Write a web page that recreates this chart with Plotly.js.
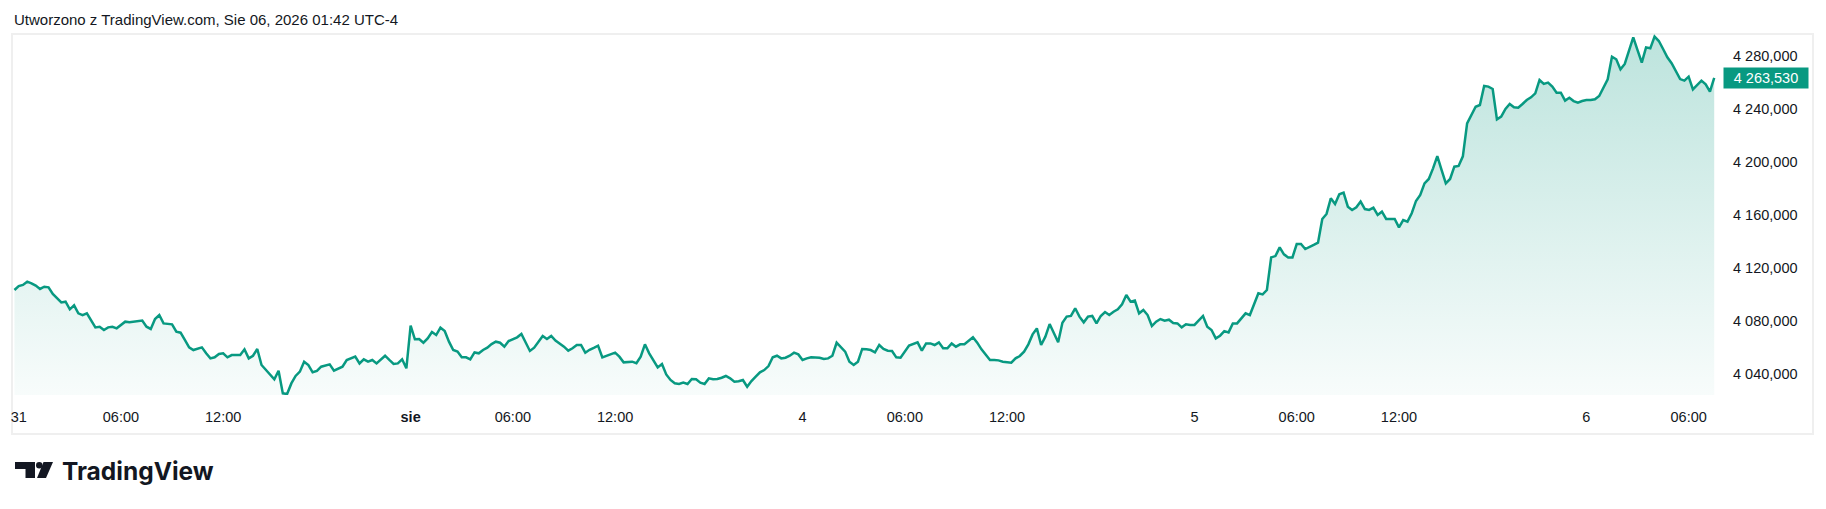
<!DOCTYPE html>
<html>
<head>
<meta charset="utf-8">
<script src="https://cdn.plot.ly/plotly-3.0.1.min.js"></script>
<style>
  html, body { margin: 0; padding: 0; background: #fff; }
  #chart { width: 1826px; height: 509px; }
</style>
</head>
<body>
<div id="chart"></div>
<script>
// trading hours counted from 31 Jul 00:00 (chart time); the daily 23:00-24:00 pause
// and the weekend are left out, so 3 Aug 00:00 = 23, 4 Aug = 46, 5 Aug = 69, 6 Aug = 92
const hours = [
  -0.25, 0, 0.25, 0.5, 0.75, 1, 1.25, 1.5, 1.75, 2, 2.5, 2.75, 3, 3.25, 3.5, 3.75,
  4, 4.25, 4.5, 4.75, 5, 5.25, 5.5, 5.75, 6, 6.25, 6.5, 6.75, 7.25, 7.5, 7.75,
  8, 8.25, 8.5, 9, 9.25, 9.5, 9.75, 10, 10.25, 10.75, 11, 11.25, 11.5, 11.75,
  12, 12.25, 12.5, 13, 13.25, 13.5, 13.75, 14, 14.25, 14.5, 15, 15.25, 15.5, 15.75,
  16, 16.25, 16.5, 16.75, 17, 17.25, 17.5, 17.75, 18.25, 18.5, 18.75, 19, 19.25,
  19.75, 20, 20.25, 20.5, 20.75, 21, 21.5, 21.75, 22, 22.25, 22.5, 22.75,
  23, 23.25, 23.5, 23.75, 24, 24.25, 24.5, 24.75, 25, 25.25, 25.5, 25.75, 26, 26.25,
  26.5, 26.75, 27, 27.25, 27.5, 27.75, 28, 28.25, 28.5, 28.75, 29, 29.25, 29.5,
  30, 30.25, 30.5, 30.75, 31, 31.25, 31.5, 31.75, 32, 32.25, 32.5, 32.75, 33, 33.25,
  33.5, 33.75, 34, 34.25, 34.5, 35, 35.25, 35.5, 36, 36.25, 36.5, 36.75, 37, 37.25,
  37.5, 37.75, 38, 38.25, 38.5, 38.75, 39, 39.25, 39.5, 39.75, 40, 40.25, 40.5,
  40.75, 41, 41.25, 41.5, 41.75, 42, 42.25, 42.5, 42.75, 43, 43.25, 43.5, 43.75,
  44, 44.25, 44.5, 44.75, 45, 45.25, 45.5, 45.75,
  46, 46.25, 46.5, 47, 47.25, 47.5, 47.75, 48, 48.25, 48.5, 48.75, 49, 49.25, 49.5,
  49.75, 50, 50.25, 50.5, 50.75, 51, 51.25, 51.5, 51.75, 52, 52.25, 52.75, 53,
  53.25, 53.5, 53.75, 54, 54.25, 54.5, 54.75, 55, 55.25, 55.5, 56, 56.25, 56.5,
  56.75, 57, 57.25, 57.5, 57.75, 58.25, 58.5, 58.75, 59, 59.25, 59.5, 59.75, 60,
  60.25, 60.5, 60.75, 61, 61.25, 61.5, 61.75, 62, 62.25, 62.5, 62.75, 63, 63.25,
  63.5, 63.75, 64, 64.25, 64.5, 64.75, 65, 65.25, 65.5, 65.75, 66, 66.25, 66.5,
  66.75, 67, 67.25, 67.5, 67.75, 68, 68.25, 68.5, 68.75,
  69, 69.5, 69.75, 70, 70.25, 70.5, 70.75, 71, 71.25, 71.5, 71.75, 72, 72.25, 72.5,
  72.75, 73, 73.25, 73.5, 73.75, 74, 74.25, 74.5, 74.75, 75, 75.25, 75.5, 75.75,
  76, 76.25, 76.5, 76.75, 77, 77.25, 77.5, 77.75, 78, 78.25, 78.5, 78.75, 79,
  79.25, 79.5, 79.75, 80, 80.25, 80.5, 80.75, 81, 81.25, 81.5, 81.75, 82, 82.25,
  82.5, 82.75, 83, 83.25, 83.5, 83.75, 84, 84.25, 84.5, 84.75, 85, 85.25, 85.5,
  85.75, 86, 86.25, 86.5, 86.75, 87, 87.25, 87.5, 87.75, 88, 88.25, 88.5, 88.75,
  89, 89.25, 89.5, 89.75, 90, 90.25, 90.5, 90.75, 91, 91.25, 91.5, 91.75,
  92, 92.25, 92.5, 92.75, 93, 93.25, 93.5, 93.75, 94, 94.25, 94.5, 94.75, 95,
  95.25, 95.5, 95.75, 96, 96.25, 96.5, 96.75, 97, 97.25, 97.5, 97.75, 98, 98.25,
  98.5, 98.75, 99, 99.25, 99.5
];

const prices = [
  4103.4, 4106.4, 4107.2, 4109.7, 4108.4, 4106.7, 4104.2, 4105.9, 4105.4, 4100.4, 4094.0, 4094.6, 4088.8, 4091.8, 4085.8, 4084.5,
  4085.8, 4080.8, 4075.2, 4075.7, 4073.2, 4075.2, 4075.7, 4074.5, 4077.0, 4079.5, 4079.0, 4079.5, 4080.3, 4075.7, 4074.0,
  4081.5, 4084.5, 4078.2, 4077.5, 4072.0, 4071.2, 4065.7, 4060.1, 4058.1, 4060.1, 4055.6, 4051.8, 4052.6, 4055.1,
  4055.6, 4052.6, 4054.3, 4054.3, 4058.6, 4051.8, 4053.8, 4058.9, 4046.8, 4043.0, 4036.0, 4042.5, 4025.4, 4024.9,
  4032.9, 4038.5, 4041.8, 4049.3, 4046.8, 4041.3, 4042.3, 4045.5, 4047.3, 4042.5, 4043.8, 4045.5, 4050.6,
  4053.1, 4048.0, 4051.1, 4049.3, 4050.6, 4048.0, 4053.8, 4050.6, 4047.6, 4048.0, 4051.1, 4044.3,
  4076.5, 4066.2, 4066.4, 4063.6, 4066.9, 4071.7, 4069.4, 4075.0, 4072.5, 4064.4, 4058.1, 4056.9, 4052.6, 4052.6,
  4051.1, 4056.3, 4055.6, 4058.1, 4059.9, 4062.6, 4064.4, 4063.6, 4060.6, 4064.9, 4066.4, 4067.7, 4070.2,
  4057.4, 4059.9, 4063.9, 4068.7, 4066.4, 4068.7, 4065.2, 4063.1, 4060.6, 4057.6, 4059.4, 4061.9, 4061.9, 4056.1,
  4058.3, 4059.8, 4061.4, 4052.6, 4053.8, 4056.1, 4053.1, 4048.8, 4049.3, 4048.1, 4053.1, 4062.4, 4055.6, 4050.6,
  4045.0, 4047.5, 4039.7, 4035.5, 4033.0, 4032.5, 4033.5, 4032.5, 4036.2, 4036.0, 4033.5, 4032.5, 4036.7,
  4036.0, 4036.2, 4037.2, 4038.5, 4036.7, 4034.2, 4034.5, 4035.5, 4030.4, 4034.7, 4038.0, 4041.3, 4043.0,
  4046.0, 4052.6, 4053.8, 4051.8, 4052.3, 4053.8, 4056.1, 4054.8,
  4050.6, 4051.8, 4052.6, 4052.3, 4051.3, 4051.8, 4053.8, 4063.6, 4059.9, 4056.9, 4049.3, 4046.8, 4049.3, 4058.9,
  4058.6, 4058.1, 4056.4, 4061.9, 4058.9, 4057.6, 4057.4, 4052.6, 4052.3, 4056.9, 4061.4, 4063.9, 4057.6,
  4063.1, 4063.1, 4061.9, 4063.9, 4059.4, 4059.4, 4063.1, 4060.6, 4062.4, 4062.4, 4067.7, 4063.7, 4058.6,
  4054.3, 4050.6, 4050.6, 4050.3, 4049.3, 4048.6, 4051.8, 4053.6, 4056.9, 4062.4, 4069.9, 4074.4, 4061.9,
  4068.2, 4077.7, 4071.4, 4063.9, 4078.7, 4083.3, 4083.8, 4089.6, 4083.3, 4079.0, 4083.3, 4083.8, 4078.2,
  4083.8, 4086.8, 4084.5, 4087.0, 4088.8, 4092.6, 4099.6, 4094.6, 4095.4, 4085.8, 4088.3, 4084.5, 4076.2,
  4079.5, 4081.5, 4080.3, 4081.0, 4078.5, 4078.2, 4075.2, 4077.5, 4077.0,
  4077.0, 4083.8, 4075.7, 4073.2, 4066.9, 4068.9, 4072.4, 4071.4, 4078.2, 4078.2, 4082.0, 4085.8, 4084.5, 4093.3,
  4100.9, 4100.1, 4103.4, 4128.0, 4129.0, 4135.6, 4130.3, 4128.0, 4128.0, 4138.1, 4138.1, 4134.3, 4135.6,
  4137.4, 4139.1, 4157.0, 4160.8, 4172.6, 4168.3, 4175.6, 4176.9, 4166.3, 4163.8, 4165.8, 4170.1, 4164.5,
  4163.8, 4165.5, 4160.0, 4162.5, 4157.0, 4157.0, 4157.0, 4150.7, 4156.2, 4155.0, 4161.3, 4170.6, 4175.1,
  4183.9, 4187.2, 4195.2, 4204.5, 4194.0, 4183.9, 4187.2, 4196.5, 4197.0, 4204.3, 4229.2, 4235.5, 4241.7,
  4243.0, 4257.4, 4256.9, 4255.1, 4232.2, 4234.2, 4240.0, 4243.8, 4241.3, 4241.0, 4243.8, 4246.8, 4248.8,
  4251.8, 4261.9, 4258.9, 4259.9, 4256.9, 4252.3, 4252.3, 4246.3, 4248.5, 4246.0, 4244.8, 4246.0,
  4246.8, 4246.8, 4247.3, 4249.8, 4255.6, 4262.4, 4279.5, 4277.5, 4269.9, 4274.0, 4284.0, 4294.1, 4284.5,
  4275.0, 4286.5, 4285.8, 4294.6, 4291.3, 4285.3, 4279.0, 4274.5, 4268.2, 4262.6, 4261.4, 4264.4, 4254.8,
  4258.1, 4261.4, 4258.6, 4253.1, 4263.53
];

const timeTicks = [0, 6, 12, 23, 29, 35, 46, 52, 58, 69, 75, 81, 92, 98];
const timeLabels = ['31', '06:00', '12:00', '<b>sie</b>', '06:00', '12:00', '4', '06:00', '12:00',
                    '5', '06:00', '12:00', '6', '06:00'];
const priceTicks = [4040, 4080, 4120, 4160, 4200, 4240, 4280];

const headerText = 'Utworzono z TradingView.com, Sie 06, 2026 01:42 UTC-4';

const GREEN = '#089981';
const INK = '#131722';
const FONT = 'Liberation Sans, Arial, sans-serif';
const W = 1826, H = 509;
const M = {l: 13, r: 106, t: 34, b: 114};
const yRange = [4024.16, 4296.6];

// pixel -> paper helpers for the frame, header and logo
const fx = x => (x - M.l) / (W - M.l - M.r);
const fy = y => (H - M.b - y) / (H - M.t - M.b);

function fmtPrice(v) {
  const [a, b] = v.toFixed(3).split('.');
  return a.replace(/\B(?=(\d{3})+(?!\d))/g, ' ') + ',' + b;
}

const lastPrice = prices[prices.length - 1];

const data = [{
  x: hours,
  y: prices,
  type: 'scatter',
  mode: 'lines',
  line: {color: GREEN, width: 2.5},
  fill: 'tozeroy',
  fillgradient: {
    type: 'vertical',
    start: yRange[0],
    stop: yRange[1],
    colorscale: [[0, 'rgba(8,153,129,0.03)'], [1, 'rgba(8,153,129,0.27)']]
  },
  hoverinfo: 'skip'
}];

const logoShapes = [
  {type: 'rect', x0: fx(15), x1: fx(35), y0: fy(462), y1: fy(469)},
  {type: 'rect', x0: fx(25.5), x1: fx(35), y0: fy(462), y1: fy(478)},
  {type: 'circle', x0: fx(36), x1: fx(42.5), y0: fy(462), y1: fy(468.5)},
  {type: 'path', path: `M${fx(43.5)},${fy(462)} L${fx(53)},${fy(462)} L${fx(46)},${fy(478)} L${fx(37)},${fy(478)} Z`}
].map(s => Object.assign(s, {xref: 'paper', yref: 'paper', fillcolor: INK, line: {width: 0}}));

const layout = {
  width: W,
  height: H,
  margin: M,
  paper_bgcolor: '#ffffff',
  plot_bgcolor: 'rgba(0,0,0,0)',
  separators: ', ',
  showlegend: false,
  hovermode: false,
  font: {family: FONT, size: 14, color: INK},
  xaxis: {
    range: [-0.335, 99.84],
    tickmode: 'array',
    tickvals: timeTicks,
    ticktext: timeLabels,
    showgrid: false,
    zeroline: false,
    showline: false,
    ticks: '',
    ticklabelstandoff: 11,
    tickfont: {family: FONT, size: 14.5, color: INK}
  },
  yaxis: {
    side: 'right',
    range: yRange,
    tickmode: 'array',
    tickvals: priceTicks,
    tickformat: ',.3f',
    showgrid: false,
    zeroline: false,
    showline: false,
    ticks: '',
    ticklabelstandoff: 12,
    tickfont: {family: FONT, size: 14.5, color: INK}
  },
  shapes: [
    {type: 'rect', xref: 'paper', yref: 'paper', x0: fx(12), x1: fx(1813), y0: fy(434), y1: fy(34),
     line: {color: '#efefef', width: 2}, fillcolor: 'rgba(0,0,0,0)', layer: 'below'}
  ].concat(logoShapes),
  annotations: [
    {xref: 'paper', yref: 'paper', x: fx(12), y: fy(20), xanchor: 'left', yanchor: 'middle',
     text: headerText, showarrow: false,
     font: {family: FONT, size: 15, color: INK}},
    {xref: 'paper', yref: 'y', x: 1, y: lastPrice, xanchor: 'left', yanchor: 'middle', xshift: 3,
     text: fmtPrice(lastPrice), showarrow: false, bgcolor: GREEN, width: 80, height: 16, borderpad: 2,
     align: 'center', font: {family: FONT, size: 14.5, color: '#ffffff'}},
    {xref: 'paper', yref: 'paper', x: fx(60), y: fy(471), xanchor: 'left', yanchor: 'middle',
     text: 'TradingView', showarrow: false,
     font: {family: 'Inter, sans-serif', size: 24.5, weight: 700, color: INK}}
  ]
};

Plotly.newPlot('chart', data, layout, {displayModeBar: false, staticPlot: true});
</script>
</body>
</html>
